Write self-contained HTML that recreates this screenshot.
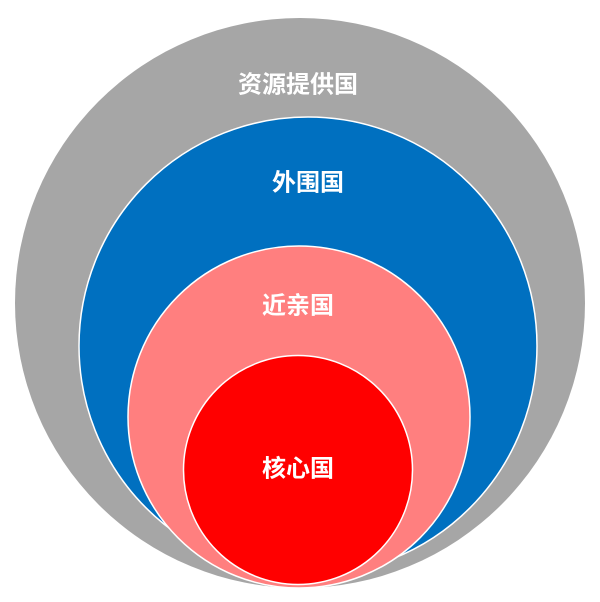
<!DOCTYPE html>
<html><head><meta charset="utf-8"><style>
html,body{margin:0;padding:0;background:#fff;width:600px;height:602px;overflow:hidden}
svg text{font-family:"Liberation Sans","Noto Sans CJK SC",sans-serif;font-size:24px;font-weight:bold;fill:#fff;text-anchor:middle;dominant-baseline:central}
</style></head><body>
<svg width="600" height="602" viewBox="0 0 600 602">
<circle cx="300" cy="303" r="285" fill="#a6a6a6"/>
<circle cx="308" cy="346" r="229" fill="#0070c0" stroke="#fff" stroke-width="1.5"/>
<circle cx="299" cy="417" r="171" fill="#ff7f7f" stroke="#fff" stroke-width="1.5"/>
<circle cx="298" cy="470" r="114.5" fill="#ff0000" stroke="#fff" stroke-width="1.5"/>
<text x="298" y="85">资源提供国</text>
<text x="308" y="183">外围国</text>
<text x="298" y="306">近亲国</text>
<text x="298" y="469">核心国</text>
</svg>
</body></html>
